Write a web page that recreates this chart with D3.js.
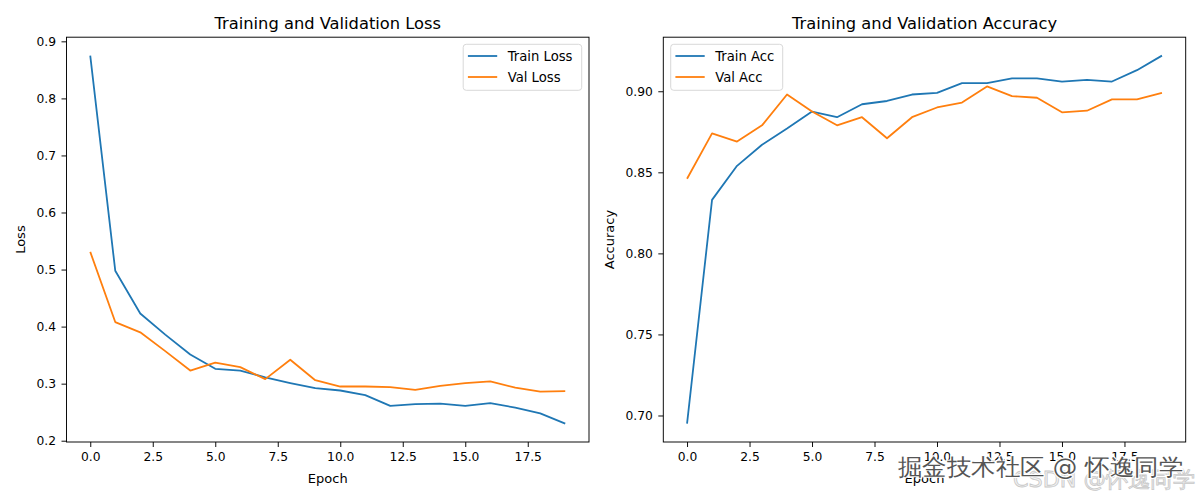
<!DOCTYPE html>
<html>
<head>
<meta charset="utf-8">
<script src="https://cdn.jsdelivr.net/npm/d3@7"></script>
<style>
  html, body { margin: 0; padding: 0; background: #fff; }
  svg { display: block; }
  text { font-family: "DejaVu Sans", sans-serif; fill: #000; }
</style>
</head>
<body>
<svg id="chart" width="1200" height="500"></svg>
<script>
const epochs = [0,1,2,3,4,5,6,7,8,9,10,11,12,13,14,15,16,17,18,19];
const trainLoss = [0.875,0.498,0.423,0.386,0.351,0.326,0.323,0.311,0.301,0.292,0.288,0.280,0.261,0.264,0.265,0.261,0.266,0.258,0.248,0.230];
const valLoss   = [0.531,0.408,0.390,0.357,0.323,0.337,0.329,0.308,0.342,0.306,0.295,0.295,0.294,0.289,0.296,0.301,0.304,0.293,0.286,0.287];
const trainAcc  = [0.695,0.833,0.854,0.867,0.877,0.8875,0.884,0.892,0.894,0.898,0.899,0.905,0.905,0.908,0.908,0.906,0.907,0.906,0.913,0.922];
const valAcc    = [0.846,0.874,0.869,0.879,0.898,0.8875,0.879,0.884,0.871,0.884,0.890,0.893,0.903,0.897,0.896,0.887,0.888,0.895,0.895,0.899];
const xTicks = [0, 2.5, 5, 7.5, 10, 12.5, 15, 17.5];
const lossTicks = [0.2,0.3,0.4,0.5,0.6,0.7,0.8,0.9];
const accTicks = [0.70,0.75,0.80,0.85,0.90];
const titles = ["Training and Validation Loss", "Training and Validation Accuracy"];
const yLabels = ["Loss", "Accuracy"];
const xLabel = "Epoch";
const lossNames = ["Train Loss", "Val Loss"];
const accNames = ["Train Acc", "Val Acc"];
const colors = ["#1f77b4", "#ff7f0e"];

const svg = d3.select("#chart");
const TICK_FS = 12.3, LABEL_FS = 13, LEG_FS = 13.2, TITLE_FS = 16.3;

function panel(cfg) {
  const {left, right, top, bottom, series, names, ticks, fmt, title, ylabel, ylabelX, legendSide} = cfg;
  const g = svg.append("g");
  const xs = d3.scaleLinear().domain([-0.95, 19.95]).range([left, right]);
  const all = series.flat();
  const lo = d3.min(all), hi = d3.max(all), m = 0.05 * (hi - lo);
  const ys = d3.scaleLinear().domain([lo - m, hi + m]).range([bottom, top]);

  const xa = g.append("g").attr("transform", `translate(0,${bottom})`)
    .call(d3.axisBottom(xs).tickValues(xTicks).tickFormat(d3.format(".1f")).tickSize(5).tickPadding(5.5));
  const ya = g.append("g").attr("transform", `translate(${left},0)`)
    .call(d3.axisLeft(ys).tickValues(ticks).tickFormat(d3.format(fmt)).tickSize(5).tickPadding(5.5));
  [xa, ya].forEach(a => {
    a.select(".domain").remove();
    a.selectAll("line").attr("stroke", "#000").attr("stroke-width", 0.95);
    a.selectAll("text").attr("font-size", TICK_FS).attr("font-family", "DejaVu Sans").attr("fill", "#000");
  });

  const clipId = "clip" + Math.round(left);
  g.append("clipPath").attr("id", clipId).append("rect")
    .attr("x", left).attr("y", top).attr("width", right - left).attr("height", bottom - top);
  series.forEach((s, i) => {
    g.append("path").datum(s)
      .attr("clip-path", `url(#${clipId})`)
      .attr("fill", "none").attr("stroke", colors[i]).attr("stroke-width", 1.8)
      .attr("stroke-linejoin", "round").attr("stroke-linecap", "butt")
      .attr("d", d3.line().x((d, j) => xs(epochs[j])).y(d => ys(d)));
  });

  g.append("rect").attr("x", left).attr("y", top).attr("width", right - left).attr("height", bottom - top)
    .attr("fill", "none").attr("stroke", "#000").attr("stroke-width", 0.95);

  g.append("text").attr("x", (left + right) / 2).attr("y", 28.7).attr("text-anchor", "middle")
    .attr("font-size", TITLE_FS).text(title);
  g.append("text").attr("x", (left + right) / 2).attr("y", 483).attr("text-anchor", "middle")
    .attr("font-size", LABEL_FS).text(xLabel);
  g.append("text").attr("transform", `translate(${ylabelX},${(top + bottom) / 2}) rotate(-90)`)
    .attr("text-anchor", "middle").attr("font-size", LABEL_FS).attr("dy", "0.35em").text(ylabel);

  const lw = legendSide === "right" ? 118.5 : 112;
  const lx = legendSide === "right" ? right - 7.3 - lw : left + 7.4;
  const ly = 44.3;
  const lg = g.append("g");
  lg.append("rect").attr("x", lx).attr("y", ly).attr("width", lw).attr("height", 46)
    .attr("rx", 3).attr("fill", "rgba(255,255,255,0.8)").attr("stroke", "#d6d6d6").attr("stroke-width", 0.95);
  names.forEach((n, i) => {
    const yy = ly + 11.7 + i * 21;
    lg.append("line").attr("x1", lx + 4.7).attr("x2", lx + 34).attr("y1", yy).attr("y2", yy)
      .attr("stroke", colors[i]).attr("stroke-width", 1.8);
    lg.append("text").attr("x", lx + 44.5).attr("y", yy).attr("dy", "0.36em")
      .attr("font-size", LEG_FS).text(n);
  });
}

panel({left: 66.5, right: 589, top: 37.2, bottom: 442, series: [trainLoss, valLoss], names: lossNames,
       ticks: lossTicks, fmt: ".1f", title: titles[0], ylabel: yLabels[0], ylabelX: 20, legendSide: "right"});
panel({left: 663.3, right: 1185.7, top: 37.2, bottom: 442, series: [trainAcc, valAcc], names: accNames,
       ticks: accTicks, fmt: ".2f", title: titles[1], ylabel: yLabels[1], ylabelX: 609, legendSide: "left"});

// watermark overlays (present in the reference)
const wm1 = "CSDN @怀逸同学";
const wm2 = "掘金技术社区 @ 怀逸同学";
svg.append("text").attr("x", 1013).attr("y", 487).attr("font-size", 22)
  .attr("font-family", "Noto Sans CJK SC").attr("textLength", 182).attr("lengthAdjust", "spacingAndGlyphs")
  .style("fill", "#f2f2f2").attr("stroke", "#c8c8c8").attr("stroke-width", 0.8).text(wm1);
svg.append("text").attr("x", 898).attr("y", 475).attr("font-size", 23)
  .attr("font-family", "Noto Sans CJK SC").attr("textLength", 285).attr("lengthAdjust", "spacingAndGlyphs")
  .style("fill", "#555").attr("stroke", "#fff").attr("stroke-width", 2.2).style("paint-order", "stroke")
  .text(wm2);
</script>
</body>
</html>
